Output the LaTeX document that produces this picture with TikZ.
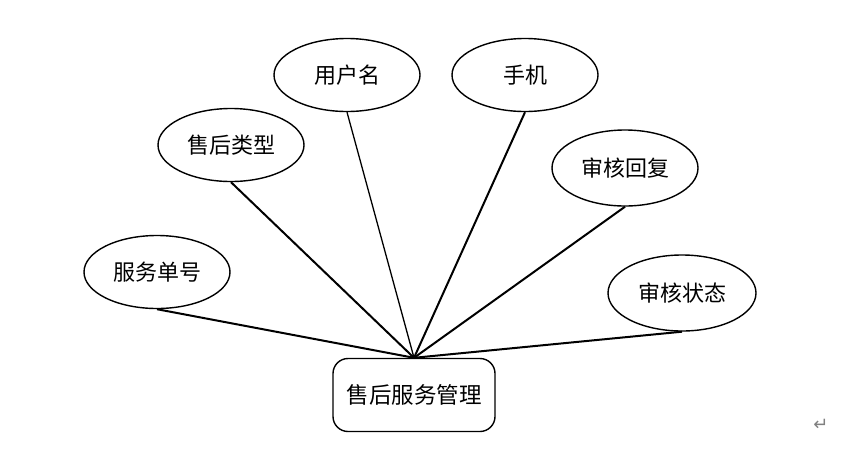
\documentclass[tikz,border=0pt]{standalone}
\usepackage{fontspec}
\usetikzlibrary{shapes.geometric}
\newfontfamily\cjk{Noto Sans CJK SC}[Scale=1]
\newfontfamily\symf{DejaVu Sans}
\begin{document}
\begin{tikzpicture}[x=1pt,y=-1pt,
  attr/.style={draw, ellipse, line width=1.4pt, minimum width=146pt, minimum height=73pt, inner sep=0pt, font=\cjk\fontsize{22}{25}\selectfont},
  ent/.style={draw, rounded corners=15pt, line width=1.4pt, minimum width=162pt, minimum height=73pt, inner sep=0pt, font=\cjk\fontsize{22.5}{26}\selectfont},
  link/.style={line width=2pt}]
\useasboundingbox (0,0) rectangle (843,464);
\node[ent] (m) at (414,395) {售后服务管理};
\node[attr] (a1) at (157,272) {服务单号};
\node[attr] (a2) at (231,145) {售后类型};
\node[attr] (a3) at (347,75) {用户名};
\node[attr] (a4) at (525,75) {手机};
\node[attr, minimum height=76pt] (a5) at (625,168) {审核回复};
\node[attr, minimum height=76pt, minimum width=148pt] (a6) at (682,293) {审核状态};
\draw[link] (a1.south) -- (m.north);
\draw[link] (a2.south) -- (m.north);
\draw[link, line width=1.3pt] (a3.south) -- (m.north);
\draw[link] (a4.south) -- (m.north);
\draw[link] (a5.south) -- (m.north);
\draw[link] (a6.south) -- (m.north);
\node[text=gray, font=\symf\fontsize{18}{20}\selectfont] (ret) at (821,425) {↵};
\end{tikzpicture}
\end{document}
